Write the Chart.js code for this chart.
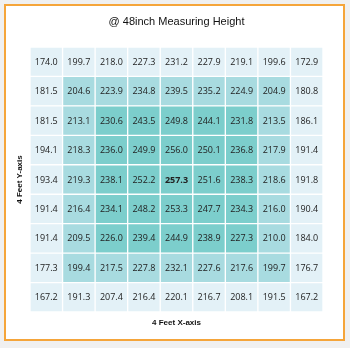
<!DOCTYPE html>
<html>
<head>
<meta charset="utf-8">
<script src="https://cdn.jsdelivr.net/npm/chart.js@4"></script>
<style>
  html, body { margin: 0; padding: 0; background: #f0f0f0; }
  #wrap { position: absolute; left: 0; top: 0; width: 350px; height: 348px; }
</style>
</head>
<body>
<div id="wrap"><canvas id="c" width="350" height="348"></canvas></div>
<script>
const titleText = '@ 48inch Measuring Height';
const xTitle = '4 Feet X-axis';
const yTitle = '4 Feet Y-axis';
const columns = ['1', '2', '3', '4', '5', '6', '7', '8', '9'];
// rows listed top to bottom
const row1 = [174.0, 199.7, 218.0, 227.3, 231.2, 227.9, 219.1, 199.6, 172.9];
const row2 = [181.5, 204.6, 223.9, 234.8, 239.5, 235.2, 224.9, 204.9, 180.8];
const row3 = [181.5, 213.1, 230.6, 243.5, 249.8, 244.1, 231.8, 213.5, 186.1];
const row4 = [194.1, 218.3, 236.0, 249.9, 256.0, 250.1, 236.8, 217.9, 191.4];
const row5 = [193.4, 219.3, 238.1, 252.2, 257.3, 251.6, 238.3, 218.6, 191.8];
const row6 = [191.4, 216.4, 234.1, 248.2, 253.3, 247.7, 234.3, 216.0, 190.4];
const row7 = [191.4, 209.5, 226.0, 239.4, 244.9, 238.9, 227.3, 210.0, 184.0];
const row8 = [177.3, 199.4, 217.5, 227.8, 232.1, 227.6, 217.6, 199.7, 176.7];
const row9 = [167.2, 191.3, 207.4, 216.4, 220.1, 216.7, 208.1, 191.5, 167.2];
const rows = [row1, row2, row3, row4, row5, row6, row7, row8, row9];

const ringColors = ['#e3f1f7', '#a8dbe0', '#7ccecc'];
const nR = rows.length, nC = columns.length;
const maxVal = Math.max(...rows.flat());

// datasets: bottom row first (stack order)
const datasets = [];
for (let i = nR - 1; i >= 0; i--) {
  const colors = columns.map((_, c) => {
    const ring = Math.min(i, c, nR - 1 - i, nC - 1 - c);
    return ringColors[Math.min(ring, 2)];
  });
  datasets.push({
    label: 'row' + (i + 1),
    rowIndex: i,
    data: rows[i].map(() => 1),
    backgroundColor: colors,
    borderColor: '#ffffff',
    borderWidth: 1,
    borderSkipped: false,
    categoryPercentage: 1,
    barPercentage: 1,
    stack: 's'
  });
}

const decor = {
  id: 'decor',
  beforeDraw(chart) {
    const ctx = chart.ctx;
    ctx.save();
    ctx.fillStyle = '#f0f0f0';
    ctx.fillRect(0, 0, chart.width, chart.height);
    ctx.fillStyle = '#ffffff';
    ctx.fillRect(5, 5, 339, 335);
    ctx.strokeStyle = '#f5a53a';
    ctx.lineWidth = 2;
    ctx.strokeRect(5, 5, 339, 335);
    ctx.restore();
  },
  afterDatasetsDraw(chart) {
    const ctx = chart.ctx;
    const area = chart.chartArea;
    ctx.save();
    ctx.textAlign = 'center';
    ctx.textBaseline = 'middle';
    chart.data.datasets.forEach((ds, di) => {
      const meta = chart.getDatasetMeta(di);
      meta.data.forEach((el, ci) => {
        const v = rows[ds.rowIndex][ci];
        ctx.font = (v === maxVal ? 'bold ' : '') + '9px "Open Sans", sans-serif';
        ctx.fillStyle = '#222222';
        ctx.fillText(v.toFixed(1), el.x, (el.y + el.base) / 2 + 0.5);
      });
    });
    // titles
    ctx.fillStyle = '#111111';
    ctx.font = '11px "Liberation Sans", Arial, sans-serif';
    ctx.fillText(titleText, (area.left + area.right) / 2, 22);
    ctx.font = 'bold 8px "Liberation Sans", Arial, sans-serif';
    ctx.fillText(xTitle, (area.left + area.right) / 2, 323);
    ctx.translate(20, (area.top + area.bottom) / 2);
    ctx.rotate(-Math.PI / 2);
    ctx.fillText(yTitle, 0, 0);
    ctx.restore();
  }
};

new Chart(document.getElementById('c'), {
  type: 'bar',
  data: { labels: columns, datasets },
  options: {
    responsive: false,
    animation: false,
    events: [],
    layout: { padding: { left: 30, right: 27, top: 47, bottom: 36 } },
    plugins: { legend: { display: false }, tooltip: { enabled: false }, title: { display: false } },
    scales: {
      x: { display: false, stacked: true, offset: true },
      y: { display: false, stacked: true, min: 0, max: nR }
    }
  },
  plugins: [decor]
});
</script>
</body>
</html>
